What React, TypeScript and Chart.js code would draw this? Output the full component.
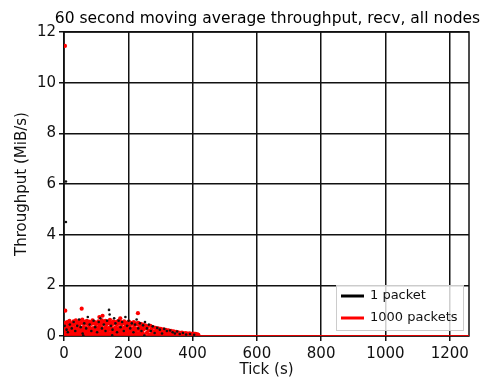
import React, { useEffect, useRef } from 'react';
import { Chart, registerables } from 'chart.js';
Chart.register(...registerables);

const TITLE = '60 second moving average throughput, recv, all nodes';
const X_LABEL = 'Tick (s)';
const Y_LABEL = 'Throughput (MiB/s)';
const SERIES_NAMES = ['1 packet', '1000 packets'];
const X_MIN = 0;
const X_MAX = 1260;
const Y_MIN = 0;
const Y_MAX = 12;

// 1000 packets (red)
const redTicks = [
  3, 4, 55, 110, 120, 175, 230,
  1, 4, 7, 10, 14, 17, 20, 23, 27, 30, 33, 37, 40, 44, 47, 50, 54, 57, 61, 64, 68, 71, 75, 78, 82, 86, 89, 93, 96, 100,
  3, 6, 9, 12, 15, 18, 22, 25, 28, 32, 35, 38, 42, 45, 49, 52, 56, 59, 63, 66, 70, 73, 77, 80, 84, 87, 91, 95, 98,
  2, 5, 8, 11, 13, 16, 19, 21, 24, 26, 29, 31, 34, 36, 39, 41, 43, 46, 48, 51, 53, 55, 58, 60, 62, 65, 67, 69, 72, 74, 76, 79, 81, 83, 85, 88, 90, 92, 94, 97, 99,
  103, 107, 110, 114, 118, 121, 125, 129, 132, 136, 140, 143, 147, 151, 154, 158, 162, 165, 169, 173, 176, 180, 184, 187, 191, 195, 198, 202, 206, 209, 213, 217, 220, 224, 228, 231, 235, 239, 242, 246, 250,
  101, 105, 108, 112, 116, 119, 123, 127, 130, 134, 138, 141, 145, 149, 152, 156, 160, 163, 167, 171, 174, 178, 182, 185, 189, 193, 196, 200, 204, 207, 211, 215, 218, 222, 226, 229, 233, 237, 240, 244, 248,
  102, 106, 109, 113, 117, 120, 124, 128, 131, 135, 139, 142, 146, 150, 153, 157, 161, 164, 168, 172, 175, 179, 183, 186, 190, 194, 197, 201, 205, 208, 212, 216, 219, 223, 227, 230, 234, 238, 241, 245, 249,
  253, 256, 258, 261, 264, 266, 269, 272, 274, 277, 280, 282, 285, 288, 290, 293, 296, 298, 301, 304, 306, 309, 312, 314, 317, 320, 322, 325, 328, 330, 333, 336, 338, 341, 344, 346, 349, 352, 355, 358, 361, 364, 367, 370, 373, 376, 379, 382, 385, 388, 391, 394, 397, 400, 403, 406, 409, 412, 415, 418,
];
const redValues = [
  11.45, 1.0, 1.08, 0.75, 0.8, 0.7, 0.9,
  0.45, 0.52, 0.38, 0.55, 0.42, 0.6, 0.48, 0.5, 0.44, 0.58, 0.47, 0.62, 0.5, 0.55, 0.43, 0.6, 0.52, 0.65, 0.47, 0.56, 0.5, 0.6, 0.45, 0.57, 0.52, 0.48, 0.62, 0.5, 0.55, 0.47,
  0.28, 0.22, 0.32, 0.25, 0.3, 0.2, 0.34, 0.26, 0.3, 0.22, 0.33, 0.27, 0.3, 0.24, 0.35, 0.28, 0.22, 0.32, 0.27, 0.34, 0.25, 0.3, 0.22, 0.33, 0.28, 0.24, 0.31, 0.27, 0.35,
  0.1, 0.05, 0.12, 0.08, 0.14, 0.06, 0.11, 0.04, 0.13, 0.08, 0.1, 0.05, 0.12, 0.07, 0.14, 0.06, 0.1, 0.04, 0.12, 0.08, 0.13, 0.05, 0.1, 0.07, 0.14, 0.06, 0.11, 0.04, 0.12, 0.08, 0.13, 0.05, 0.1, 0.07, 0.14, 0.06, 0.11, 0.04, 0.12, 0.08, 0.13,
  0.5, 0.58, 0.45, 0.55, 0.62, 0.48, 0.53, 0.6, 0.46, 0.57, 0.5, 0.64, 0.52, 0.47, 0.58, 0.5, 0.55, 0.45, 0.6, 0.5, 0.56, 0.47, 0.52, 0.58, 0.46, 0.53, 0.5, 0.57, 0.45, 0.52, 0.48, 0.55, 0.44, 0.5, 0.46, 0.52, 0.42, 0.48, 0.4, 0.45, 0.38,
  0.3, 0.24, 0.33, 0.27, 0.35, 0.22, 0.3, 0.26, 0.34, 0.24, 0.31, 0.27, 0.35, 0.23, 0.3, 0.26, 0.33, 0.22, 0.3, 0.27, 0.34, 0.24, 0.31, 0.26, 0.33, 0.22, 0.3, 0.27, 0.33, 0.23, 0.3, 0.26, 0.32, 0.22, 0.29, 0.25, 0.3, 0.22, 0.28, 0.24, 0.27,
  0.08, 0.13, 0.05, 0.11, 0.07, 0.14, 0.04, 0.1, 0.06, 0.13, 0.08, 0.11, 0.05, 0.12, 0.07, 0.14, 0.04, 0.1, 0.08, 0.13, 0.05, 0.11, 0.07, 0.14, 0.04, 0.1, 0.06, 0.12, 0.08, 0.13, 0.05, 0.11, 0.07, 0.14, 0.04, 0.1, 0.06, 0.12, 0.08, 0.11, 0.05,
  0.42, 0.3, 0.12, 0.38, 0.22, 0.06, 0.4, 0.25, 0.1, 0.35, 0.18, 0.05, 0.32, 0.22, 0.1, 0.3, 0.15, 0.04, 0.28, 0.2, 0.08, 0.26, 0.14, 0.05, 0.24, 0.16, 0.07, 0.22, 0.12, 0.04, 0.2, 0.1, 0.05, 0.18, 0.12, 0.04, 0.16, 0.09, 0.14, 0.06, 0.12, 0.08, 0.13, 0.05, 0.1, 0.07, 0.11, 0.04, 0.09, 0.06, 0.1, 0.05, 0.08, 0.06, 0.09, 0.05, 0.08, 0.06, 0.07, 0.05,
];

// 1 packet (black)
const blackTicks = [
  6, 6, 2, 8, 12, 18, 24, 30, 35, 41, 47, 52, 58, 63, 69, 74, 80, 85, 92, 97,
  103, 108, 113, 118, 124, 129, 134, 140, 142, 146, 151, 156, 160, 165, 170, 176, 181, 186, 191, 196,
  201, 206, 211, 216, 221, 226, 231, 236, 241, 246, 252, 258, 264, 270, 276, 282, 290, 298, 305, 312,
  320, 330, 338, 345, 352, 360, 370, 380, 392, 405, 60, 150, 250,
];
const blackValues = [
  6.1, 4.5, 0.4, 0.25, 0.15, 0.45, 0.3, 0.55, 0.2, 0.4, 0.65, 0.35, 0.1, 0.5, 0.3, 0.75, 0.45, 0.2, 0.6, 0.35,
  0.15, 0.55, 0.7, 0.3, 0.45, 0.2, 0.6, 1.03, 0.85, 0.4, 0.25, 0.7, 0.5, 0.15, 0.6, 0.35, 0.55, 0.2, 0.75, 0.4,
  0.6, 0.3, 0.5, 0.15, 0.45, 0.65, 0.3, 0.5, 0.2, 0.42, 0.55, 0.3, 0.45, 0.2, 0.38, 0.12, 0.32, 0.25, 0.1, 0.28,
  0.2, 0.22, 0.15, 0.1, 0.18, 0.08, 0.12, 0.06, 0.08, 0.05, 0.02, 0.03, 0.02,
];

// Zero baseline after activity ends (both series)
const baselineTicks = [0, 420, 1260];
const baselineValues = [0, 0, 0];

const FONT = 'DejaVu Sans';

const framePlugin = {
  id: 'frameAndLegend',
  beforeDatasetsDraw(chart: any) {
    const { ctx, chartArea } = chart;
    ctx.save();
    ctx.strokeStyle = '#111';
    ctx.lineWidth = 1.5;
    ctx.strokeRect(chartArea.left, chartArea.top, chartArea.right - chartArea.left, chartArea.bottom - chartArea.top);
    ctx.restore();
  },
  afterDraw(chart: any) {
    const { ctx, chartArea } = chart;
    ctx.save();
    // Title
    ctx.fillStyle = '#000';
    ctx.font = `15.5px "${FONT}"`;
    ctx.textAlign = 'center';
    ctx.textBaseline = 'alphabetic';
    ctx.fillText(TITLE, (chartArea.left + chartArea.right) / 2 + 1, 23);
    // Legend box
    const bx = chartArea.right - 133;
    const by = chartArea.bottom - 51;
    const bw = 127;
    const bh = 45;
    ctx.fillStyle = 'rgba(255,255,255,0.8)';
    ctx.strokeStyle = '#cccccc';
    ctx.lineWidth = 1;
    ctx.fillRect(bx, by, bw, bh);
    ctx.strokeRect(bx + 0.5, by + 0.5, bw, bh);
    const colors = ['#000000', '#ff0000'];
    ctx.font = `13px "${FONT}"`;
    ctx.textAlign = 'left';
    ctx.textBaseline = 'middle';
    for (let i = 0; i < 2; i++) {
      const ly = by + 11 + i * 22;
      ctx.strokeStyle = colors[i];
      ctx.lineWidth = 3;
      ctx.beginPath();
      ctx.moveTo(bx + 5, ly);
      ctx.lineTo(bx + 28, ly);
      ctx.stroke();
      ctx.fillStyle = '#111';
      ctx.fillText(SERIES_NAMES[i], bx + 34, ly);
    }
    ctx.restore();
  },
};

export default function App() {
  const ref = useRef<HTMLCanvasElement | null>(null);
  useEffect(() => {
    const red = redTicks.map((x, i) => ({ x, y: redValues[i] }));
    const black = blackTicks.map((x, i) => ({ x, y: blackValues[i] }));
    const base = baselineTicks.map((x, i) => ({ x, y: baselineValues[i] }));
    const chart = new Chart(ref.current as HTMLCanvasElement, {
      type: 'scatter',
      data: {
        datasets: [
          {
            label: SERIES_NAMES[0] + ' base',
            data: base,
            showLine: true,
            borderColor: '#000000',
            borderWidth: 2,
            pointRadius: 0,
            order: 4,
          },
          {
            label: SERIES_NAMES[1],
            data: red,
            backgroundColor: '#ff0000',
            borderColor: '#ff0000',
            pointRadius: 2.1,
            borderWidth: 0,
            order: 3,
          },
          {
            label: SERIES_NAMES[1] + ' base',
            data: base,
            showLine: true,
            borderColor: '#e00000',
            borderWidth: 2,
            pointRadius: 0,
            order: 2,
          },
          {
            label: SERIES_NAMES[0],
            data: black,
            backgroundColor: '#111111',
            borderColor: '#111111',
            pointRadius: 1.3,
            borderWidth: 0,
            order: 1,
          },
        ],
      },
      plugins: [framePlugin],
      options: {
        animation: false,
        responsive: false,
        maintainAspectRatio: false,
        layout: { padding: { top: 32, right: 19, left: 0, bottom: 0 } },
        plugins: {
          legend: { display: false },
          title: { display: false },
          tooltip: { enabled: false },
        },
        scales: {
          x: {
            type: 'linear',
            min: X_MIN,
            max: X_MAX,
            afterFit: (s: any) => { s.height = 45; },
            ticks: {
              stepSize: 200,
              includeBounds: false,
              color: '#111',
              font: { family: FONT, size: 15 },
              padding: 4,
              maxRotation: 0,
              callback: (v: any) => String(v),
            },
            grid: { color: '#111', lineWidth: 1.5, tickLength: 5, drawTicks: true },
            border: { display: false },
            title: {
              display: true,
              text: X_LABEL,
              color: '#111',
              font: { family: FONT, size: 15 },
              padding: { top: 0, bottom: 2 },
            },
          },
          y: {
            type: 'linear',
            min: Y_MIN,
            max: Y_MAX,
            afterFit: (s: any) => { s.width = 64; },
            ticks: {
              stepSize: 2,
              includeBounds: false,
              color: '#111',
              font: { family: FONT, size: 15 },
              padding: 3,
              callback: (v: any) => String(v),
            },
            grid: { color: '#111', lineWidth: 1.5, tickLength: 5, drawTicks: true },
            border: { display: false },
            title: {
              display: true,
              text: Y_LABEL,
              color: '#111',
              font: { family: FONT, size: 15 },
              padding: { top: 13, bottom: 0 },
            },
          },
        },
      },
    });
    return () => chart.destroy();
  }, []);
  return (
    <div style={{ position: 'fixed', left: 0, top: 0, width: 488, height: 381, background: '#fff' }}>
      <canvas ref={ref} width={488} height={381} style={{ width: 488, height: 381, display: 'block' }} />
    </div>
  );
}
